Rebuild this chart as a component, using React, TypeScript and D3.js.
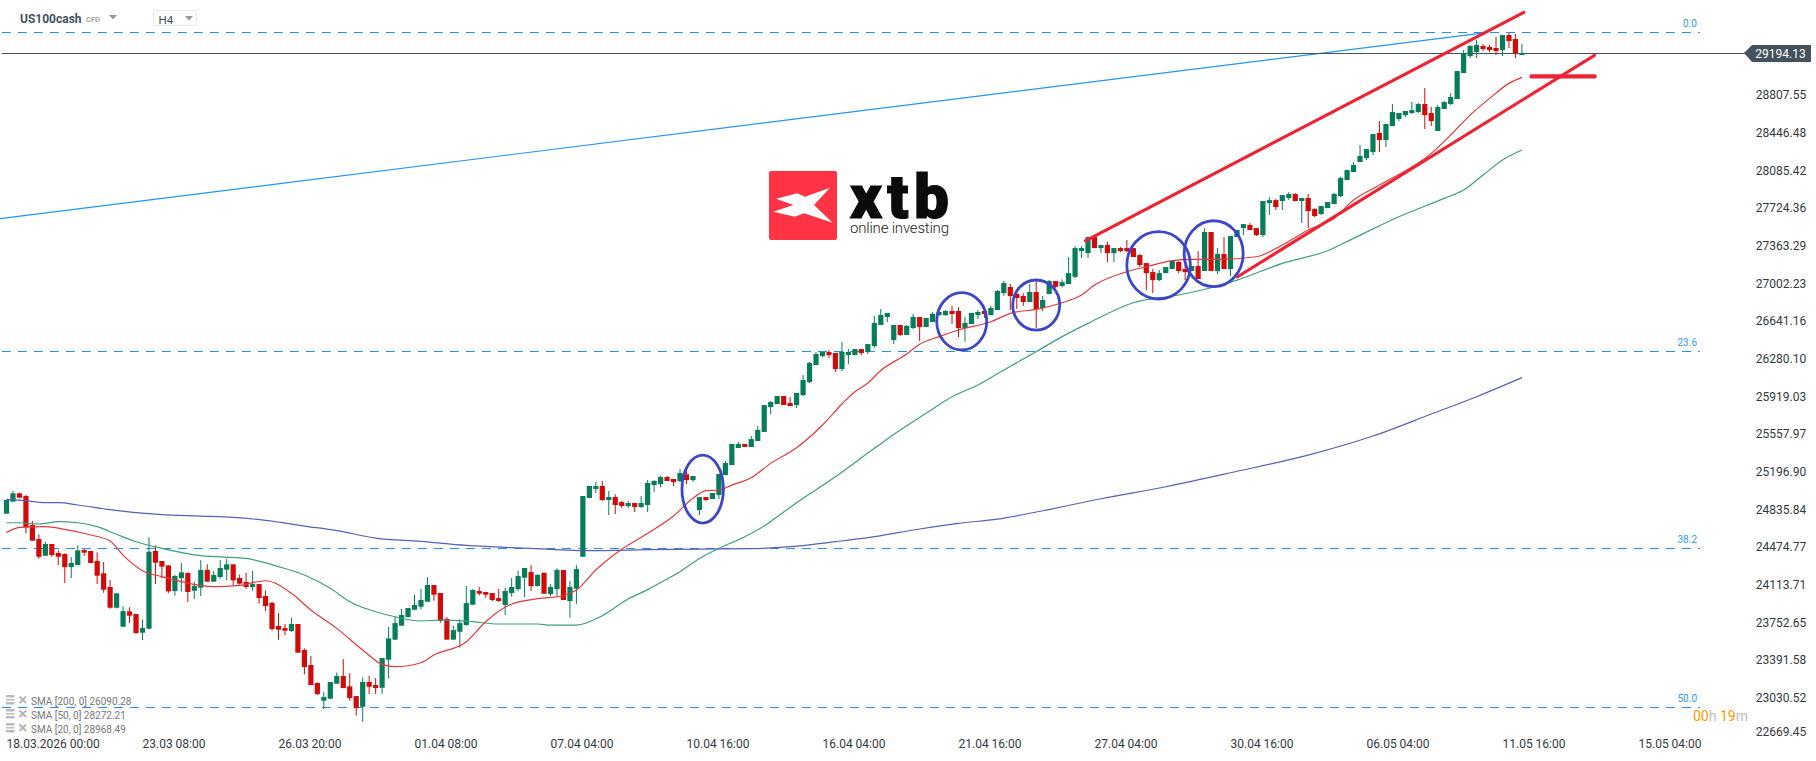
import React from "react";
import * as d3 from "d3";

const opens = [
24778,24893,24973,24947,24669,24535,24375,24487,24401,24391,
24266,24285,24429,24420,24324,24206,24075,23876,23694,23841,
23816,23637,23675,24420,24324,24282,24036,24161,24209,24039,
24068,24238,24126,24170,24241,24292,24161,24123,24075,24103,
23988,23924,23701,23681,23653,23720,23471,23327,23154,22985,
23004,23148,23221,23122,23029,22927,23164,23135,23109,23378,
23570,23704,23787,23857,23886,23934,24094,24017,23768,23570,
23646,23710,23905,24036,24027,24017,23969,23902,24017,24055,
24164,24218,24084,24209,24007,24055,24238,23940,24059,24365,
24928,25014,25043,24909,24937,24889,24851,24880,24842,24861,
25052,25062,25129,25110,25091,25155,25100,24813,24937,24918,
24957,25148,25244,25407,25446,25417,25474,25561,25800,25829,
25906,25839,25819,25915,26040,26203,26289,26328,26318,26165,
26299,26299,26356,26328,26385,26587,26663,26443,26587,26491,
26558,26663,26567,26615,26682,26682,26721,26721,26558,26596,
26682,26721,26682,26730,26893,26951,26884,26865,26807,26903,
26750,26884,27008,26960,26979,27049,27295,27276,27430,27324,
27353,27276,27324,27324,27324,27257,27180,27094,27017,27084,
27123,27190,27123,27104,27152,27104,27478,27104,27267,27123,
27430,27516,27545,27516,27449,27756,27784,27775,27804,27842,
27775,27804,27698,27650,27708,27746,27823,27976,28053,28149,
28187,28245,28427,28360,28494,28561,28599,28619,28628,28705,
28619,28446,28657,28705,28753,29002,29165,29203,29261,29251,
29242,29223,29366,29328,29175,
];
const highs = [
24909,24995,24979,24957,24707,24580,24506,24487,24426,24397,
24362,24474,24442,24420,24407,24314,24142,24014,23889,23880,
23816,23765,24551,24474,24324,24282,24190,24305,24215,24126,
24333,24292,24228,24333,24343,24292,24193,24212,24228,24103,
24039,23931,23825,23720,23777,23720,23486,23413,23160,23068,
23164,23256,23384,23250,23029,23208,23221,23202,23394,23691,
23790,23864,23873,24001,24059,24170,24094,24017,23787,23704,
23765,24084,24055,24075,24027,24017,24059,24065,24161,24231,
24257,24285,24199,24218,24103,24254,24238,24132,24285,24947,
25043,25081,25091,24995,24963,24899,24899,24880,24947,25100,
25100,25139,25139,25110,25206,25196,25139,24937,24937,24976,
25158,25283,25446,25465,25446,25522,25618,25819,25858,25906,
25906,25896,25935,26107,26232,26328,26328,26347,26318,26424,
26356,26356,26356,26404,26673,26740,26702,26587,26587,26587,
26692,26663,26654,26711,26711,26730,26769,26756,26663,26702,
26730,26721,26769,26922,27008,26980,26922,26890,26980,27018,
26865,27018,27008,27024,27238,27343,27343,27430,27430,27353,
27382,27324,27334,27401,27324,27267,27180,27123,27113,27142,
27200,27200,27171,27152,27295,27516,27478,27324,27430,27439,
27497,27554,27564,27516,27775,27813,27794,27832,27861,27852,
27804,27842,27708,27727,27765,27852,28005,28072,28149,28312,
28273,28417,28542,28513,28705,28619,28638,28724,28714,28858,
28676,28695,28734,28810,29021,29223,29271,29318,29280,29271,
29347,29366,29386,29376,29280,
];
const lows = [
24778,24893,24925,24589,24519,24346,24372,24365,24285,24113,
24161,24285,24375,24305,24103,24020,23867,23870,23691,23729,
23624,23566,23675,24103,24158,24017,23991,24030,23931,23959,
23988,24126,24126,24154,24139,24087,24097,24059,24039,23915,
23844,23656,23566,23611,23646,23445,23237,23135,23039,22905,
23004,23148,23106,22985,22841,22783,23049,23049,23049,23196,
23570,23704,23781,23851,23860,23934,23944,23733,23570,23570,
23493,23704,23905,23995,23972,23940,23934,23806,23982,24036,
23979,24036,24078,24007,23988,23982,23950,23781,23912,24365,
24928,24976,24899,24765,24774,24832,24832,24794,24832,24794,
24985,25033,25091,25043,25081,25062,25081,24765,24899,24918,
24918,25148,25244,25407,25417,25417,25474,25561,25733,25829,
25819,25810,25791,25906,26030,26203,26280,26270,26136,26145,
26213,26299,26299,26308,26366,26587,26615,26404,26481,26491,
26548,26433,26567,26615,26673,26673,26596,26471,26424,26596,
26644,26654,26682,26730,26865,26730,26740,26769,26807,26558,
26721,26884,26937,26947,26979,27037,27228,27228,27324,27276,
27190,27190,27286,27286,27238,27142,26921,26893,27008,27084,
27123,27084,27017,27104,27027,27104,27104,27075,27123,27056,
27430,27449,27497,27439,27430,27641,27689,27689,27784,27775,
27564,27516,27621,27641,27708,27746,27813,27976,28053,28149,
28168,28216,28245,28293,28494,28542,28580,28609,28619,28465,
28494,28446,28657,28695,28753,29002,29146,29146,29213,29203,
29175,29165,29242,29146,29175,
];
const closes = [
24909,24973,24931,24647,24519,24365,24487,24381,24365,24266,
24305,24426,24404,24305,24183,24049,23876,24014,23844,23800,
23634,23681,24413,24308,24270,24033,24180,24215,24027,24084,
24238,24126,24190,24257,24292,24139,24107,24075,24103,23969,
23892,23672,23665,23656,23720,23445,23308,23135,23049,23020,
23164,23221,23106,23010,22914,23164,23119,23106,23394,23582,
23729,23806,23873,23902,23950,24094,24001,23749,23570,23662,
23729,23921,24046,24011,24001,23950,23940,24036,24075,24180,
24257,24084,24190,24011,24075,24238,23950,24075,24247,24947,
25043,25043,24909,24937,24861,24851,24880,24842,24880,25072,
25091,25129,25091,25081,25168,25100,25139,24937,24909,24976,
25158,25263,25446,25446,25417,25493,25580,25819,25848,25906,
25819,25810,25935,26059,26222,26308,26328,26299,26165,26328,
26328,26356,26318,26404,26606,26682,26702,26587,26491,26577,
26663,26567,26654,26692,26711,26721,26692,26558,26606,26702,
26711,26692,26750,26913,26989,26865,26845,26807,26903,26740,
26826,27008,26953,26998,27084,27324,27324,27430,27324,27353,
27276,27324,27295,27295,27238,27161,27084,27017,27084,27142,
27200,27104,27094,27152,27027,27478,27104,27267,27123,27439,
27497,27554,27497,27449,27775,27784,27717,27832,27842,27775,
27804,27679,27631,27727,27765,27842,27995,28072,28120,28206,
28273,28417,28360,28513,28628,28619,28638,28647,28705,28599,
28542,28676,28724,28772,29021,29191,29261,29271,29232,29223,
29213,29366,29309,29191,29194,
];

// moving averages, read at selected bars
const sma20Bars = [0,2,6,9,13,16,18,21,24,27,32,36,40,44,47,51,55,58,60,64,66,71,74,78,82,86,88,91,95,99,103,106,108,110,112,115,118,122,126,129,131,133,135,139,141,144,147,152,155,159,163,166,168,173,176,180,183,187,193,197,201,205,208,212,220,223,226,229,232,234];
const sma20Vals = [24596,24647,24653,24627,24573,24516,24381,24231,24174,24126,24078,24091,24135,24014,23854,23678,23471,23333,23311,23349,23423,23550,23742,23912,23963,23991,24046,24238,24436,24589,24755,24925,24998,25005,25052,25123,25260,25410,25628,25829,25947,26030,26150,26308,26401,26475,26539,26618,26698,26737,26800,26874,26969,27097,27145,27203,27216,27216,27241,27353,27497,27609,27784,27928,28232,28408,28599,28759,28903,28961];
const sma50Bars = [0,2,5,8,11,14,17,20,24,30,37,42,46,50,53,57,60,64,67,72,76,82,84,88,92,96,99,102,104,107,110,114,117,119,123,128,134,138,142,146,150,154,159,163,167,174,181,187,190,197,204,208,215,222,225,228,231,234];
const sma50Vals = [24691,24691,24679,24701,24691,24653,24580,24509,24445,24375,24349,24270,24190,24062,23934,23838,23790,23749,23758,23742,23720,23720,23710,23710,23800,23960,24050,24151,24222,24349,24445,24557,24660,24749,24925,25132,25404,25580,25740,25899,26011,26155,26331,26475,26602,26800,26874,26960,27017,27177,27299,27417,27625,27800,27880,28024,28168,28264];
const sma200Bars = [0,3,6,8,11,16,20,24,30,35,40,46,51,57,64,71,78,84,89,96,103,115,121,128,133,141,147,153,160,169,179,189,202,211,220,227,234];
const sma200Vals = [24915,24902,24883,24883,24861,24816,24787,24768,24755,24743,24714,24659,24615,24544,24512,24474,24452,24436,24423,24429,24436,24442,24461,24509,24548,24631,24685,24726,24806,24921,25036,25170,25356,25522,25733,25899,26082];

const priceTicks = [28807.55,28446.48,28085.42,27724.36,27363.29,27002.23,26641.16,26280.1,25919.03,25557.97,25196.9,24835.84,24474.77,24113.71,23752.65,23391.58,23030.52,22669.45];
const timeLabels = ["18.03.2026 00:00","23.03 08:00","26.03 20:00","01.04 08:00","07.04 04:00","10.04 16:00","16.04 04:00","21.04 16:00","27.04 04:00","30.04 16:00","06.05 04:00","11.05 16:00","15.05 04:00"];
const timeBars = [0,21,42,63,84,105,126,147,168,189,210,231,252];

const fibLevels = ["0.0","23.6","38.2","50.0"];
const fibPrices = [29390,26336,24444,22919];
const lastPrice = 29194.13;
const legendRows = ["SMA [200, 0] 26090.28","SMA [50, 0] 28272.21","SMA [20, 0] 28968.49"];

// hand-drawn annotations in [bar, price] terms
const trendLines = [
  [166.6,27394,234.3,29584],
  [190.1,27049,245.2,29172],
];
const levelLine = [235.5,245.2,28970];
const fibTrend = [-1,27607,228.5,29390];
const circleBars = [107.5,147.5,159,177.9,186.4];
const circlePrices = [25014,26622,26778,27159,27270];
const circleBarRadii = [3.2,3.86,3.63,4.91,4.56];
const circlePriceRadii = [326,275,240,323,316];

const W = 1816, H = 761;
const x = d3.scaleLinear().domain([0,252]).range([6.5,1638.5]);
const y = d3.scaleLinear().domain([lastPrice,22669.45]).range([53,733.6]);

const GREEN = "#057d59", RED = "#d10a0a", FONT = "Roboto, sans-serif";
const line = d3.line<[number,number]>().x(d=>x(d[0])).y(d=>y(d[1])).curve(d3.curveMonotoneX);
const sma = (b:number[],v:number[]) => line(b.map((k,i)=>[k,v[i]] as [number,number])) as string;

export default function App(){
  const tagY = y(lastPrice);
  return (
    <svg width={W} height={H} viewBox={`0 0 ${W} ${H}`} style={{position:"absolute",left:0,top:0,background:"#fff",fontFamily:FONT}}>
      {/* watermark */}
      <rect x={769} y={171} width={68} height={69} rx={2} fill="#ff3344"/>
      <polygon fill="#fff" points="776,198.7 797.3,193.3 805,196.7 830,187.7 814,205 832.7,222.7 804,213.3 795,216.7 773.3,211.7 793.3,205"/>
      <text x={850} y={218} fontSize={62} fontWeight={900} fill="#0b0b0b" stroke="#0b0b0b" strokeWidth={1.2} textLength={99} lengthAdjust="spacing">xtb</text>
      <text x={850} y={233} fontSize={15} fontWeight={300} fill="#222" textLength={99} lengthAdjust="spacing">online investing</text>

      {/* fib levels */}
      {fibPrices.map((p,i)=>{
        const ly = Math.floor(y(p))+0.5;
        return (
          <g key={i}>
            <line x1={2} x2={1700} y1={ly} y2={ly} stroke="#1e90ff" strokeWidth={1} strokeDasharray="9 7" shapeRendering="crispEdges"/>
            <text x={1697} y={ly-9} fontSize={10} fill="#2f9bf0" textAnchor="end" dominantBaseline="central">{fibLevels[i]}</text>
          </g>
        );
      })}
      <line x1={x(fibTrend[0])} y1={y(fibTrend[1])} x2={x(fibTrend[2])} y2={y(fibTrend[3])} stroke="#2196f3" strokeWidth={1.2}/>
      <line x1={2} x2={1746} y1={tagY+0.5} y2={tagY+0.5} stroke="#44525e" strokeWidth={1} shapeRendering="crispEdges"/>

      {/* candles */}
      {opens.map((o,i)=>{
        const c = closes[i], col = c>=o?GREEN:RED;
        const top = y(Math.max(o,c)), bot = y(Math.min(o,c));
        return (
          <g key={i}>
            <line x1={x(i)} x2={x(i)} y1={y(highs[i])} y2={y(lows[i])} stroke={col} strokeWidth={1}/>
            <rect x={x(i)-2.6} width={5.2} y={top} height={Math.max(bot-top,1)} fill={col}/>
          </g>
        );
      })}

      {/* moving averages */}
      <path d={sma(sma200Bars,sma200Vals)} fill="none" stroke="#5a5fb8" strokeWidth={1.2}/>
      <path d={sma(sma50Bars,sma50Vals)} fill="none" stroke="#3f9e80" strokeWidth={1.2}/>
      <path d={sma(sma20Bars,sma20Vals)} fill="none" stroke="#e2393c" strokeWidth={1.2}/>

      {/* annotations */}
      {trendLines.map((t,i)=>(
        <line key={i} x1={x(t[0])} y1={y(t[1])} x2={x(t[2])} y2={y(t[3])} stroke="#ee2233" strokeWidth={3.1} strokeLinecap="round"/>
      ))}
      <line x1={x(levelLine[0])} x2={x(levelLine[1])} y1={y(levelLine[2])} y2={y(levelLine[2])} stroke="#ee2233" strokeWidth={4.4} strokeLinecap="round"/>
      {circleBars.map((b,i)=>(
        <ellipse key={i} cx={x(b)} cy={y(circlePrices[i])} rx={x(b+circleBarRadii[i])-x(b)} ry={y(circlePrices[i]-circlePriceRadii[i])-y(circlePrices[i])} fill="none" stroke="#3c46c8" strokeWidth={2.8}/>
      ))}

      {/* price axis */}
      {priceTicks.map(p=>(
        <text key={p} x={1781} y={Math.min(y(p)+2,731.7)} fontSize={12} fill="#333a40" textAnchor="middle" dominantBaseline="central">{p.toFixed(2)}</text>
      ))}
      <polygon fill="#44525e" points={`1744,${tagY} 1752,${tagY-8} 1811,${tagY-8} 1811,${tagY+9} 1752,${tagY+9}`}/>
      <text x={1780.5} y={tagY+1} fontSize={12} fill="#fff" textAnchor="middle" dominantBaseline="central">{lastPrice.toFixed(2)}</text>

      {/* time axis */}
      {timeLabels.map((t,i)=>(
        <text key={t} x={x(timeBars[i])} y={744} fontSize={12} fill="#333a40" dominantBaseline="central">{t}</text>
      ))}
      <text x={1693} y={716} fontSize={14} dominantBaseline="central" fill="#bdbdbd">
        <tspan fill="#ff9800">00</tspan>h <tspan fill="#ff9800">19</tspan>m
      </text>

      {/* header */}
      <text x={20} y={18.5} fontSize={12} fontWeight={700} fill="#44525e" dominantBaseline="central">US100cash</text>
      <text x={86} y={19} fontSize={7.5} fontWeight={700} fill="#a8a8a8" dominantBaseline="central">CFD</text>
      <polygon points="109,15 117,15 113,19.5" fill="#999"/>
      <rect x={153.5} y={10.5} width={43} height={15} rx={2} fill="#fff" stroke="#e6e6e6"/>
      <text x={158.5} y={19.5} fontSize={11.5} fill="#44525e" dominantBaseline="central">H4</text>
      <polygon points="185,16 193,16 189,20.5" fill="#999"/>

      {/* legend */}
      {legendRows.map((t,i)=>{
        const cy = 700.5+14*i;
        return (
          <g key={t}>
            <rect x={6} y={cy-5.5} width={8.5} height={2.5} fill="#bbb"/>
            <rect x={6} y={cy-1.5} width={8.5} height={1.5} fill="#bbb"/>
            <rect x={6} y={cy+1.5} width={8.5} height={2.5} fill="#bbb"/>
            <path d={`M19.5 ${cy-4}L26 ${cy+2.5}M26 ${cy-4}L19.5 ${cy+2.5}`} stroke="#b5b5b5" strokeWidth={2}/>
            <text x={31} y={cy+1} fontSize={10} fill="#777" dominantBaseline="central">{t}</text>
          </g>
        );
      })}
    </svg>
  );
}
